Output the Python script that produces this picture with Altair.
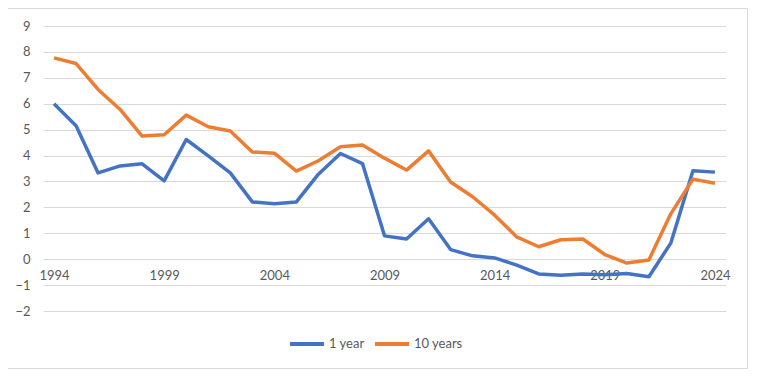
import altair as alt
import pandas as pd

years = list(range(1994, 2025))
one_year = [6.0, 5.15, 3.33, 3.6, 3.68, 3.02, 4.62, 3.99, 3.33, 2.21, 2.14, 2.21,
            3.28, 4.08, 3.69, 0.9, 0.78, 1.56, 0.37, 0.13, 0.05, -0.23, -0.57,
            -0.62, -0.57, -0.6, -0.55, -0.68, 0.63, 3.41, 3.36]
ten_years = [7.77, 7.55, 6.55, 5.78, 4.75, 4.8, 5.56, 5.11, 4.95, 4.14, 4.09, 3.4,
             3.8, 4.34, 4.41, 3.9, 3.44, 4.18, 2.98, 2.41, 1.7, 0.86, 0.48,
             0.75, 0.78, 0.18, -0.15, -0.03, 1.76, 3.09, 2.93]
series_names = ["1 year", "10 years"]
colors = ["#4472C4", "#ED7D31"]
x_labels = [1994, 1999, 2004, 2009, 2014, 2019, 2024]
y_ticks = list(range(-2, 10))

df = pd.DataFrame({
    "year": years * 2,
    "value": one_year + ten_years,
    "series": [series_names[0]] * len(years) + [series_names[1]] * len(years),
})

FONT = "Lato"
TXT = "#595959"

lines = alt.Chart(df).mark_line(strokeWidth=3.5, strokeJoin="round", strokeCap="butt").encode(
    x=alt.X("year:Q",
            scale=alt.Scale(domain=[1993.5, 2024.5], nice=False, zero=False),
            axis=alt.Axis(values=x_labels, title=None, format="d", grid=False,
                          domain=False, ticks=False, offset=-52, labelPadding=10,
                          labelFont=FONT, labelFontSize=13, labelColor=TXT)),
    y=alt.Y("value:Q",
            scale=alt.Scale(domain=[-2, 9], nice=False),
            axis=alt.Axis(values=y_ticks, title=None, grid=True, gridColor="#d9d9d9",
                          gridWidth=1, domain=False, ticks=False, labelPadding=13,
                          labelFont=FONT, labelFontSize=13, labelColor=TXT)),
    color=alt.Color("series:N",
                    scale=alt.Scale(domain=series_names, range=colors),
                    legend=alt.Legend(title=None, orient="none", direction="horizontal",
                                      legendX=245, legendY=299,
                                      symbolType="stroke", symbolSize=1156,
                                      symbolStrokeWidth=4, labelOffset=3,
                                      columnPadding=2,
                                      labelFont=FONT, labelFontSize=13, labelColor=TXT)),
)

border = alt.Chart(pd.DataFrame({"a": [0]})).mark_rect(
    filled=False, stroke="#d9d9d9", strokeWidth=1
).encode(x=alt.value(-35.5), x2=alt.value(704.5), y=alt.value(-17.5), y2=alt.value(342.5))

chart = alt.layer(border, lines).properties(
    width=683, height=285,
    autosize=alt.AutoSizeParams(type="none"),
    padding={"left": 35, "top": 18, "right": 27, "bottom": 61},
).configure_view(stroke=None)

chart.save("out.html", embed_options={"renderer": "svg", "actions": False})
